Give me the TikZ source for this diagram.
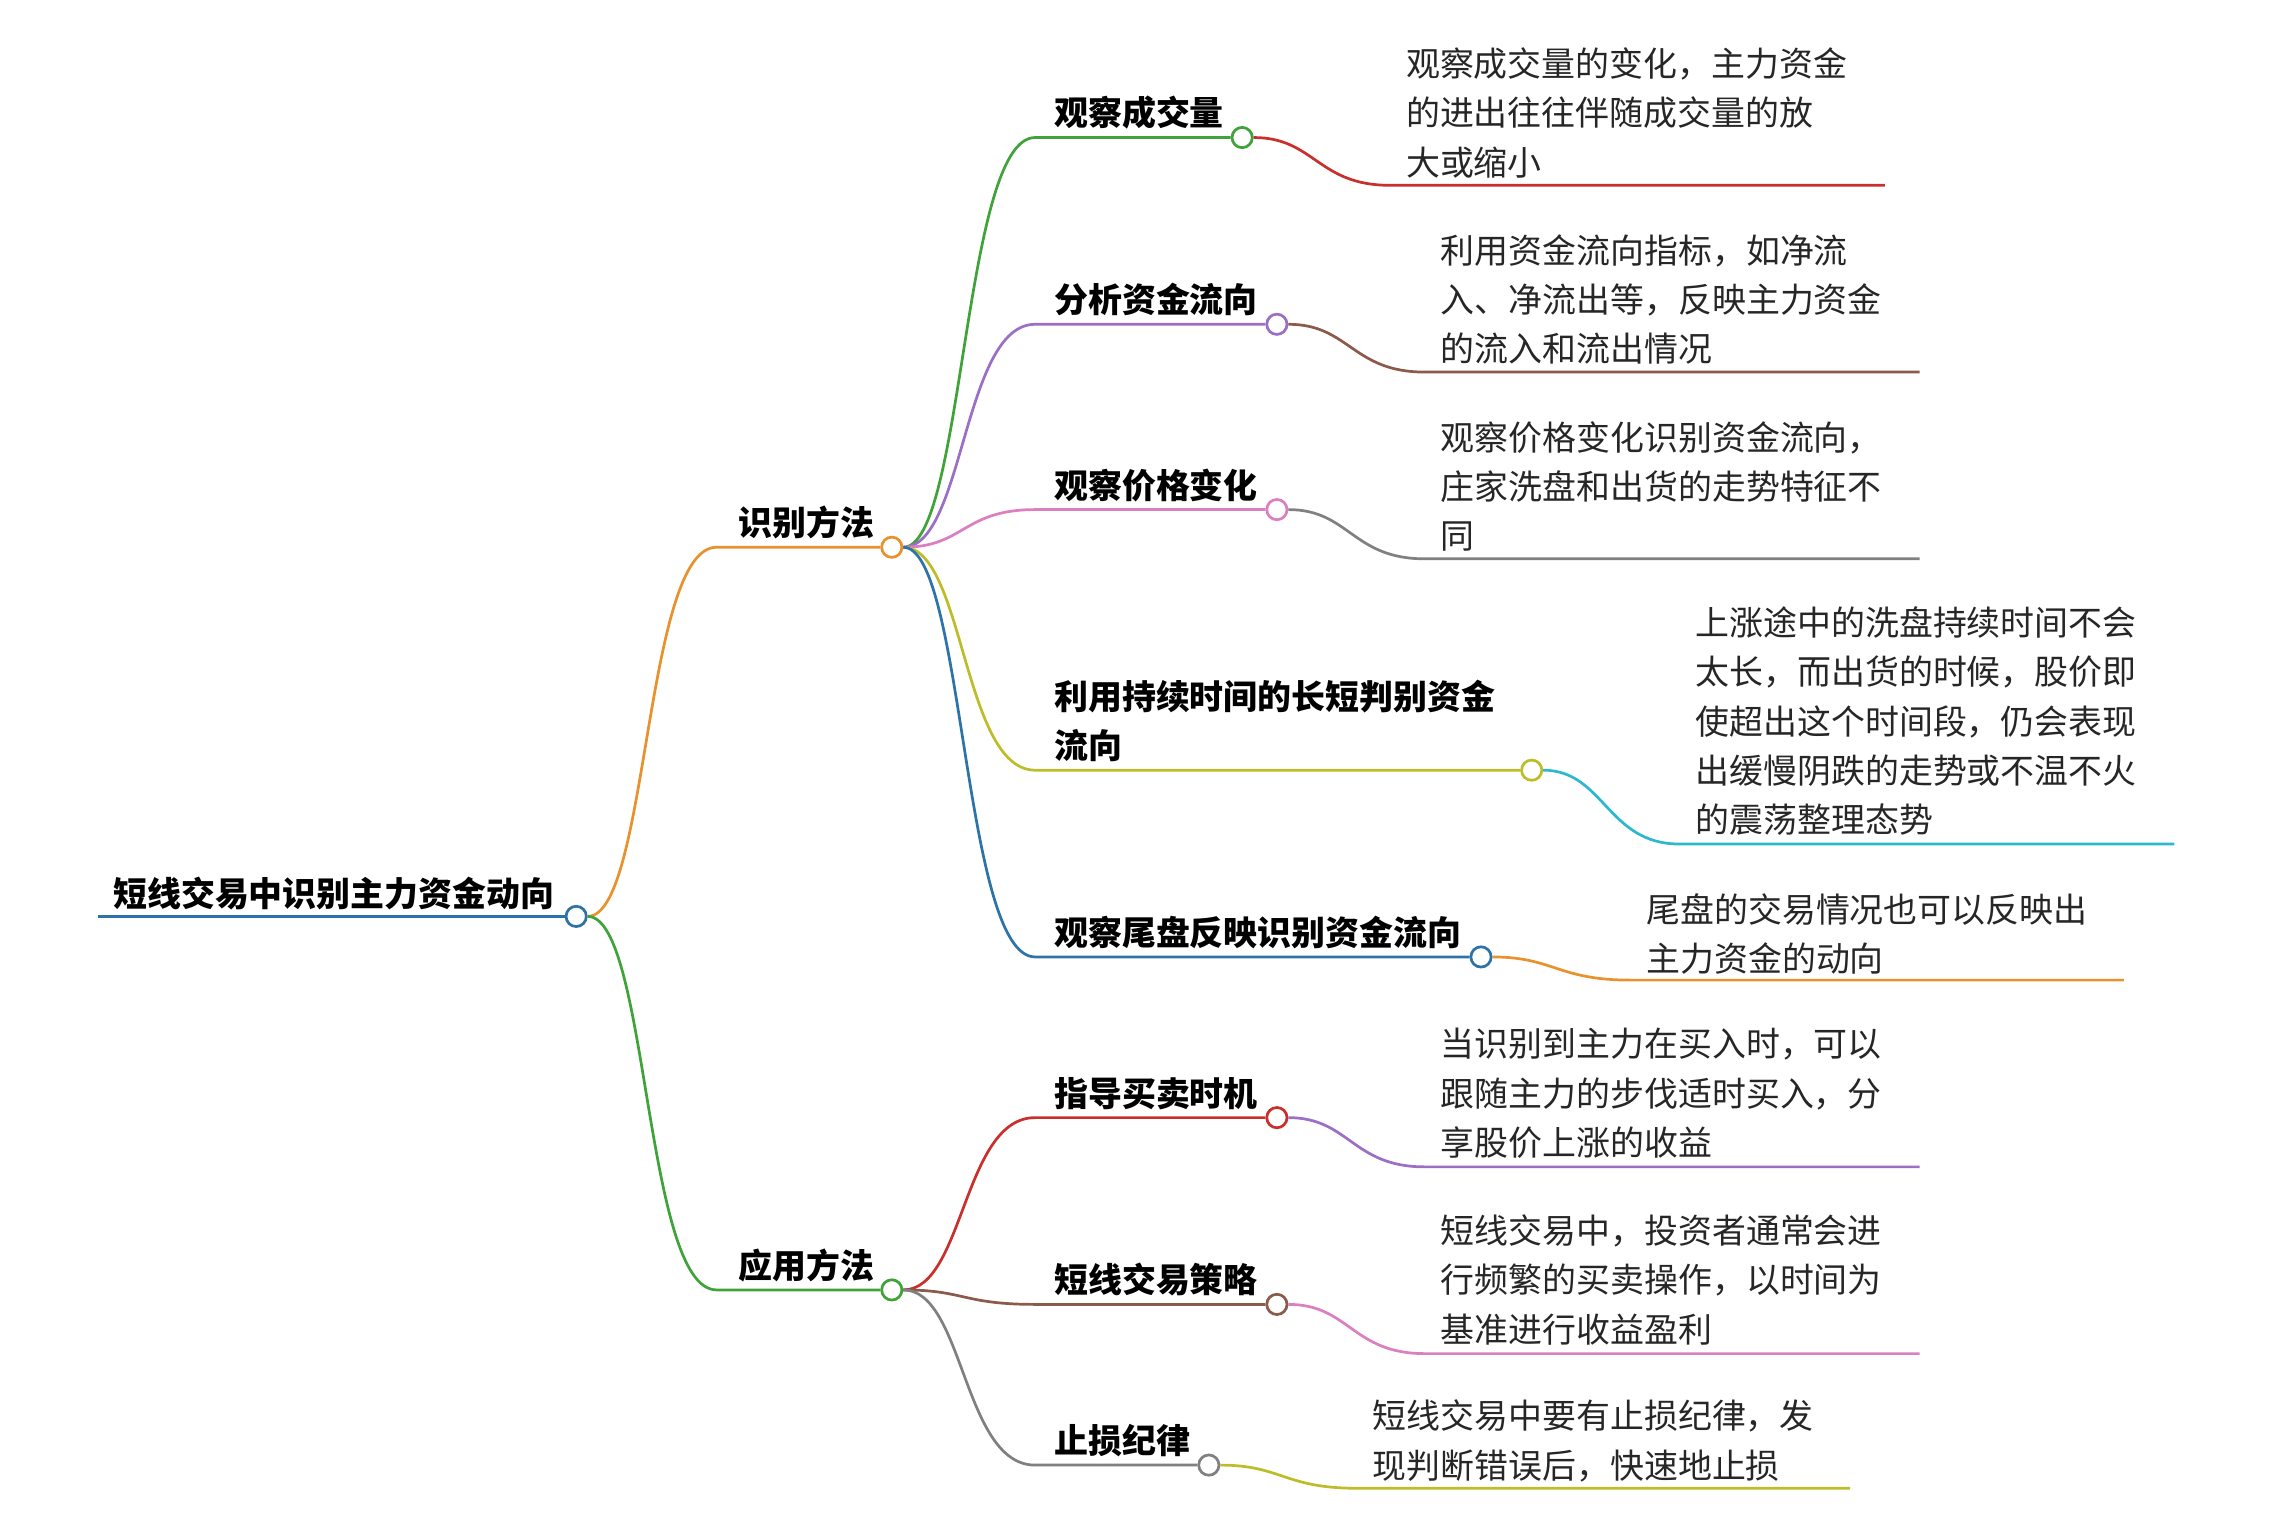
\documentclass[tikz,border=0pt]{standalone}
\usepackage{fontspec}
\setmainfont{Noto Sans CJK SC}
\usepackage{tikz}
\usetikzlibrary{calc}
\definecolor{corange}{HTML}{E8922E}
\definecolor{cgreen}{HTML}{3FA33A}
\definecolor{cred}{HTML}{C9302C}
\definecolor{cpurple}{HTML}{9B6FC4}
\definecolor{cbrown}{HTML}{8A5A4A}
\definecolor{cpink}{HTML}{DC7FC0}
\definecolor{cgray}{HTML}{808080}
\definecolor{colive}{HTML}{BDBD2A}
\definecolor{ccyan}{HTML}{2DB8CC}
\definecolor{cblue}{HTML}{2C73A8}
\begin{document}
\begin{tikzpicture}
[x=0.03cm,y=-0.03cm,
 dot/.style={circle,draw=#1,fill=white,line width=1.6pt,inner sep=0pt,minimum size=0.42cm},
 link/.style={draw=#1,line width=1.6pt},
 topic/.style={anchor=base west,font=\fontsize{20}{29}\selectfont\bfseries,inner sep=0pt},
 note/.style={anchor=base west,align=left,font=\fontsize{20}{29}\selectfont,inner sep=0pt,text=black!85}]
\useasboundingbox (0,0) rectangle (1568,1063);
% root
\coordinate (r0) at (68,633);
\node (r) at (398,633) [dot=cblue] {};
\draw [link=cblue] (r0) -- (r);
\node (rt) at (78,626) [topic] {短线交易中识别主力资金动向};
% first level
\coordinate (a0) at (495,378);
\node (a) at (616,378) [dot=corange] {};
\node (at) at (510,370) [topic] {识别方法};
\draw [link=corange] (r) .. controls +(50,0) and +(-50,0) .. (a0) -- (a);
\coordinate (b0) at (495,891);
\node (b) at (616,891) [dot=cgreen] {};
\node (bt) at (510,883) [topic] {应用方法};
\draw [link=cgreen] (r) .. controls +(50,0) and +(-50,0) .. (b0) -- (b);
% children of a
\coordinate (a10) at (715,95);
\node (a1) at (858,95) [dot=cgreen] {};
\node (a1t) at (728,87) [topic] {观察成交量};
\draw [link=cgreen] (a) .. controls +(50,0) and +(-50,0) .. (a10) -- (a1);
\coordinate (a20) at (715,224);
\node (a2) at (882,224) [dot=cpurple] {};
\node (a2t) at (728,216) [topic] {分析资金流向};
\draw [link=cpurple] (a) .. controls +(50,0) and +(-50,0) .. (a20) -- (a2);
\coordinate (a30) at (715,352);
\node (a3) at (882,352) [dot=cpink] {};
\node (a3t) at (728,344) [topic] {观察价格变化};
\draw [link=cpink] (a) .. controls +(50,0) and +(-50,0) .. (a30) -- (a3);
\coordinate (a40) at (715,532);
\node (a4) at (1058,532) [dot=colive] {};
\node (a4t) at (728,524) [topic,align=left] {利用持续时间的长短判别资金\\流向};
\draw [link=colive] (a) .. controls +(50,0) and +(-50,0) .. (a40) -- (a4);
\coordinate (a50) at (715,661);
\node (a5) at (1023,661) [dot=cblue] {};
\node (a5t) at (728,653) [topic] {观察尾盘反映识别资金流向};
\draw [link=cblue] (a) .. controls +(50,0) and +(-50,0) .. (a50) -- (a5);
% children of b
\coordinate (b10) at (715,772);
\node (b1) at (882,772) [dot=cred] {};
\node (b1t) at (728,764) [topic] {指导买卖时机};
\draw [link=cred] (b) .. controls +(50,0) and +(-50,0) .. (b10) -- (b1);
\coordinate (b20) at (715,901);
\node (b2) at (882,901) [dot=cbrown] {};
\node (b2t) at (728,893) [topic] {短线交易策略};
\draw [link=cbrown] (b) .. controls +(50,0) and +(-50,0) .. (b20) -- (b2);
\coordinate (b30) at (715,1012);
\node (b3) at (835,1012) [dot=cgray] {};
\node (b3t) at (728,1004) [topic] {止损纪律};
\draw [link=cgray] (b) .. controls +(50,0) and +(-50,0) .. (b30) -- (b3);
% notes
\coordinate (n1a) at (960,128); \coordinate (n1b) at (1302,128);
\draw [link=cred] (a1) .. controls +(50,0) and +(-50,0) .. (n1a) -- (n1b);
\node (n1) at (971,121) [note] {观察成交量的变化，主力资金\\的进出往往伴随成交量的放\\大或缩小};
\coordinate (n2a) at (984,257); \coordinate (n2b) at (1326,257);
\draw [link=cbrown] (a2) .. controls +(50,0) and +(-50,0) .. (n2a) -- (n2b);
\node (n2) at (995,250) [note] {利用资金流向指标，如净流\\入、净流出等，反映主力资金\\的流入和流出情况};
\coordinate (n3a) at (984,386); \coordinate (n3b) at (1326,386);
\draw [link=cgray] (a3) .. controls +(50,0) and +(-50,0) .. (n3a) -- (n3b);
\node (n3) at (995,379) [note] {观察价格变化识别资金流向，\\庄家洗盘和出货的走势特征不\\同};
\coordinate (n4a) at (1160,583); \coordinate (n4b) at (1502,583);
\draw [link=ccyan] (a4) .. controls +(50,0) and +(-50,0) .. (n4a) -- (n4b);
\node (n4) at (1171,575) [note] {上涨途中的洗盘持续时间不会\\太长，而出货的时候，股价即\\使超出这个时间段，仍会表现\\出缓慢阴跌的走势或不温不火\\的震荡整理态势};
\coordinate (n5a) at (1126,677); \coordinate (n5b) at (1467,677);
\draw [link=corange] (a5) .. controls +(50,0) and +(-50,0) .. (n5a) -- (n5b);
\node (n5) at (1137,671) [note] {尾盘的交易情况也可以反映出\\主力资金的动向};
\coordinate (n6a) at (984,806); \coordinate (n6b) at (1326,806);
\draw [link=cpurple] (b1) .. controls +(50,0) and +(-50,0) .. (n6a) -- (n6b);
\node (n6) at (995,798) [note] {当识别到主力在买入时，可以\\跟随主力的步伐适时买入，分\\享股价上涨的收益};
\coordinate (n7a) at (984,935); \coordinate (n7b) at (1326,935);
\draw [link=cpink] (b2) .. controls +(50,0) and +(-50,0) .. (n7a) -- (n7b);
\node (n7) at (995,927) [note] {短线交易中，投资者通常会进\\行频繁的买卖操作，以时间为\\基准进行收益盈利};
\coordinate (n8a) at (937,1028); \coordinate (n8b) at (1278,1028);
\draw [link=colive] (b3) .. controls +(50,0) and +(-50,0) .. (n8a) -- (n8b);
\node (n8) at (948,1021) [note] {短线交易中要有止损纪律，发\\现判断错误后，快速地止损};
\end{tikzpicture}
\end{document}
